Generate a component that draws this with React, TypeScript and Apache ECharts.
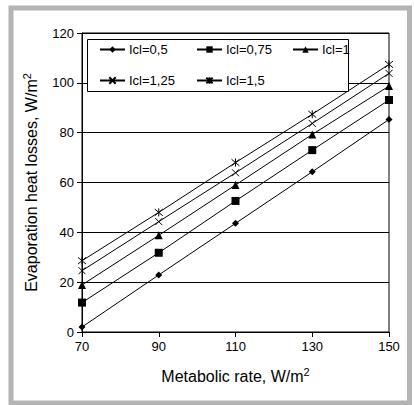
import React, { useEffect, useRef } from "react";
import * as echarts from "echarts";

const categories = ["70", "90", "110", "130", "150"];
const seriesNames = ["Icl=0,5", "Icl=0,75", "Icl=1", "Icl=1,25", "Icl=1,5"];
const icl05 = [2, 22.9, 43.6, 64.3, 85.3];
const icl075 = [11.8, 31.8, 52.6, 73, 93.1];
const icl1 = [18.9, 38.8, 59, 79.3, 98.7];
const icl125 = [24.6, 44.3, 63.9, 83.7, 103.8];
const icl15 = [28.6, 48, 68, 87.4, 107.4];
const seriesData = [icl05, icl075, icl1, icl125, icl15];

const FONT = "Liberation Sans, Arial, sans-serif";
const symbols = [
  "diamond",
  "rect",
  "triangle",
  "path://M0,0L10,10M10,0L0,10",
  "path://M0,0L10,10M10,0L0,10M5,-1L5,11",
];
const symbolSizes = [7, 8, 8, 7, 8];
const legendPos = [
  { left: 99, top: 43 },
  { left: 196, top: 43 },
  { left: 292, top: 43 },
  { left: 99, top: 74 },
  { left: 196, top: 74 },
];

export default function App() {
  const ref = useRef<HTMLDivElement>(null);
  useEffect(() => {
    document.body.style.margin = "0";
    const chart = echarts.init(ref.current!, null, { renderer: "svg" });
    const rich = {
      a: { fontSize: 16, fontFamily: FONT, color: "#000", lineHeight: 20 },
      s: { fontSize: 11, fontFamily: FONT, color: "#000", verticalAlign: "top", lineHeight: 20, padding: [0, 0, 9, 0] },
    };
    chart.setOption({
      animation: false,
      backgroundColor: "#fff",
      textStyle: { fontFamily: FONT },
      grid: {
        left: 82,
        top: 33,
        width: 307,
        height: 299,
        show: true,
        borderColor: "#000",
        borderWidth: 1,
        backgroundColor: "transparent",
      },
      xAxis: {
        type: "category",
        data: categories,
        boundaryGap: false,
        axisLine: { lineStyle: { color: "#000", width: 1 } },
        axisTick: { show: true, alignWithLabel: true, length: 5, lineStyle: { color: "#000" } },
        axisLabel: { fontSize: 13, color: "#000", margin: 8, fontFamily: FONT },
        splitLine: { show: false },
        name: "{a|Metabolic rate, W/m}{s|2}",
        nameLocation: "middle",
        nameGap: 34,
        nameTextStyle: { rich },
      },
      yAxis: {
        type: "value",
        min: 0,
        max: 120,
        interval: 20,
        axisLine: { show: true, lineStyle: { color: "#000", width: 1 } },
        axisTick: { show: true, length: 5, lineStyle: { color: "#000" } },
        axisLabel: { fontSize: 13, color: "#000", margin: 8, fontFamily: FONT },
        splitLine: { show: true, lineStyle: { color: "#000", width: 1 } },
        name: "{a|Evaporation heat losses, W/m}{s|2}",
        nameLocation: "middle",
        nameRotate: 90,
        nameGap: 36,
        nameTextStyle: { rich },
      },
      legend: seriesNames.map((n, i) => ({
        data: [n],
        left: legendPos[i].left,
        top: legendPos[i].top,
        itemWidth: 25,
        itemHeight: 8,
        itemGap: 4,
        padding: 0,
        z: 10,
        textStyle: { fontSize: 13, color: "#000", fontFamily: FONT, padding: [0, 0, 0, -1] },
      })),
      graphic: [
        {
          type: "rect",
          shape: { x: 87.5, y: 39.5, width: 261, height: 52 },
          style: { fill: "#fff", stroke: "#000", lineWidth: 1 },
          z: 3,
        },
        {
          type: "rect",
          shape: { x: 11, y: 8, width: 398.5, height: 395 },
          style: { fill: "none", stroke: "#b4b4b4", lineWidth: 5 },
          z: 20,
          silent: true,
        },
      ],
      series: seriesNames.map((n, i) => ({
        name: n,
        type: "line",
        data: seriesData[i],
        symbol: symbols[i],
        symbolSize: symbolSizes[i],
        showSymbol: true,
        lineStyle: { color: "#000", width: 1 },
        itemStyle: {
          color: i >= 3 ? "rgba(0,0,0,0)" : "#000",
          borderColor: "#000",
          borderWidth: i >= 3 ? 1 : 0,
        },
        z: 2,
      })),
    });
    return () => chart.dispose();
  }, []);
  return <div ref={ref} style={{ width: 414, height: 405 }} />;
}
